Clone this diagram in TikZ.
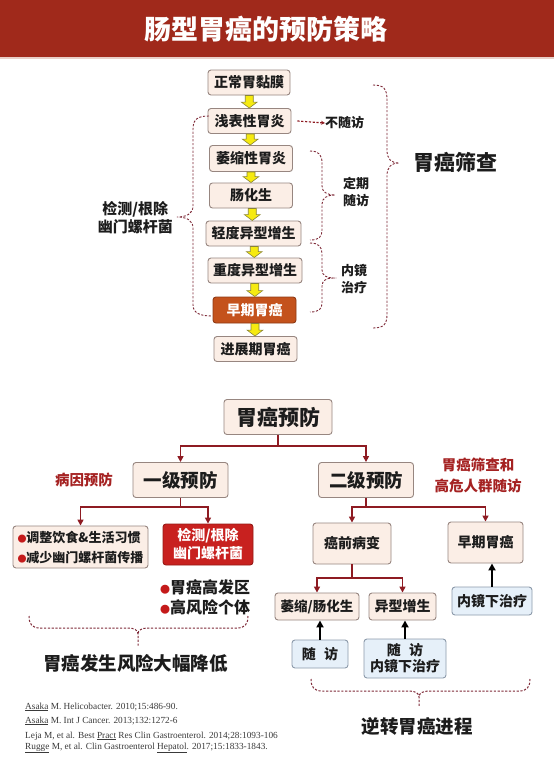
\documentclass[tikz,border=0pt]{standalone}
\usepackage{fontspec}
\setmainfont{Liberation Serif}
\newfontfamily\cjk{Noto Sans CJK SC}
\usetikzlibrary{calc,arrows.meta}
\definecolor{titlered}{HTML}{A0291B}
\definecolor{titleedge}{HTML}{E9CFC8}
\definecolor{boxfill}{HTML}{FBEEE6}
\definecolor{boxline}{HTML}{978680}
\definecolor{orangebox}{HTML}{C4521C}
\definecolor{orangeline}{HTML}{8E3A16}
\definecolor{redbox}{HTML}{C8211F}
\definecolor{redline}{HTML}{951A16}
\definecolor{bluefill}{HTML}{E6F0F9}
\definecolor{blueline}{HTML}{8C9AAA}
\definecolor{connred}{HTML}{8E1B22}
\definecolor{bracered}{HTML}{7E2A38}
\definecolor{labelred}{HTML}{A52222}
\definecolor{bulletred}{HTML}{C41A1A}
\definecolor{yel}{HTML}{F6EA10}
\definecolor{yelline}{HTML}{8A8438}
\definecolor{txt}{HTML}{1C1C1C}
\definecolor{reftxt}{HTML}{3A3A3A}
\newcommand\fsz[2]{\fontsize{#1}{#2}\selectfont}
\newcommand\yarr[2]{\draw[yarrowst] let \p1=(#1.south), \p2=(#2.north), \n1={0.5*(\x1+\x2)} in
  (\n1-4pt,\y1) -- (\n1+4pt,\y1) -- (\n1+4pt,\y2+6pt) -- (\n1+8pt,\y2+6pt) -- (\n1,\y2) -- (\n1-8pt,\y2+6pt) -- (\n1-4pt,\y2+6pt) -- cycle;}
\newcommand\bul[1]{{\color{bulletred}\fsz{#1}{#1}●}}
\begin{document}
\begin{tikzpicture}[x=1pt,y=-1pt,
 box/.style={draw=boxline, fill=boxfill, rounded corners=3pt, line width=0.9pt, inner sep=0pt, text=txt, font=\cjk\bfseries\fsz{14}{16}, align=center},
 darkbox/.style={box, draw=orangeline, fill=orangebox, text=white},
 redbx/.style={box, draw=redline, fill=redbox, text=white},
 bluebox/.style={box, draw=blueline, fill=bluefill},
 lbl/.style={inner sep=0pt, text=txt, font=\cjk\bfseries\fsz{13}{15}, align=center},
 redlbl/.style={inner sep=0pt, text=labelred, font=\cjk\bfseries\fsz{14.5}{21}, align=center},
 conn/.style={draw=connred, line width=1.6pt},
 connarr/.style={conn, -{Triangle[length=6pt,width=6pt]}},
 uparr/.style={draw=black, line width=1.8pt, -{Triangle[length=7pt,width=7pt]}},
 brace/.style={draw=bracered, dash pattern=on 2.2pt off 1.6pt, line width=0.9pt},
 yarrowst/.style={draw=yelline, fill=yel, line width=0.6pt, line join=miter},
 ref/.style={inner sep=0pt, anchor=west, text=reftxt, font=\fsz{9.3}{11}},
]
\useasboundingbox (0,0) rectangle (554,772);
\fill[white] (0,0) rectangle (554,772);
% title
\fill[titlered] (0,0) rectangle (554,57);
\draw[titleedge, line width=1.2pt] (0,58) -- (554,58);
\node[inner sep=0pt, text=white, font=\cjk\bfseries\fsz{27}{30}] (title) at (266,29) {肠型胃癌的预防策略};

% top chain
\node[box, minimum width=82, minimum height=25] (n1) at (249,82.5) {正常胃黏膜};
\node[box, minimum width=83, minimum height=25] (n2) at (249.5,121) {浅表性胃炎};
\node[box, minimum width=83, minimum height=26] (n3) at (251,158.5) {萎缩性胃炎};
\node[box, minimum width=83, minimum height=25] (n4) at (251,195.5) {肠化生};
\node[box, minimum width=95, minimum height=25] (n5) at (253.5,233.5) {轻度异型增生};
\node[box, minimum width=94, minimum height=25] (n6) at (255,270.5) {重度异型增生};
\node[darkbox, minimum width=83, minimum height=26] (n7) at (254.5,310) {早期胃癌};
\node[box, minimum width=83, minimum height=25] (n8) at (255.5,349) {进展期胃癌};
\yarr{n1}{n2}
\yarr{n2}{n3}
\yarr{n3}{n4}
\yarr{n4}{n5}
\yarr{n5}{n6}
\yarr{n6}{n7}
\yarr{n7}{n8}

% no follow-up
\node[lbl, anchor=west] (nofu) at (325,123) {不随访};
\draw[brace, line width=1.2pt, draw=connred, -{Stealth[length=4pt,width=4pt]}] ([xshift=6pt]n2.east) -- (nofu.west);

% left brace
\node[lbl, font=\cjk\bfseries\fsz{15}{18}, anchor=east] (hp) at (173,218) {检测/根除\\幽门螺杆菌};
\draw[brace] (209,116) .. controls (198,116) and (193,119) .. (193,129) -- (193,206)
  .. controls (193,214) and (186,217) .. (177,217)
  .. controls (186,217) and (193,220) .. (193,228) -- (193,305)
  .. controls (193,313) and (200,316) .. (212,316);

% right braces
\draw[brace] (373,85) .. controls (384,85) and (387,89) .. (387,100) -- (387,150)
  .. controls (387,159) and (391,163) .. (399,163)
  .. controls (391,163) and (387,167) .. (387,176) -- (387,314)
  .. controls (387,324) and (384,328) .. (373,328);
\node[lbl, font=\cjk\bfseries\fsz{21}{24}] (scr) at (455,162) {胃癌筛查};
\draw[brace] (310,151) .. controls (319,151) and (322,155) .. (322,163) -- (322,186)
  .. controls (322,192) and (327,195) .. (335,195)
  .. controls (327,195) and (322,198) .. (322,204) -- (322,230)
  .. controls (322,237) and (319,240) .. (310,240);
\node[lbl, font=\cjk\bfseries\fsz{13}{16.5}] (regfu) at (356,192) {定期\\随访};
\draw[brace] (310,243) .. controls (319,243) and (322,247) .. (322,254) -- (322,270)
  .. controls (322,275) and (326,278) .. (333,278)
  .. controls (326,278) and (322,281) .. (322,286) -- (322,303)
  .. controls (322,309) and (319,312) .. (310,312);
\node[lbl, font=\cjk\bfseries\fsz{13}{16.5}] (endo) at (354,279) {内镜\\治疗};

% ---------- bottom part
\node[box, font=\cjk\bfseries\fsz{21}{24}, minimum width=108, minimum height=35] (p0) at (278,417) {胃癌预防};
\node[box, font=\cjk\bfseries\fsz{18.5}{22}, minimum width=95, minimum height=35] (p1) at (180.5,480) {一级预防};
\node[box, font=\cjk\bfseries\fsz{18.5}{22}, minimum width=95, minimum height=35] (p2) at (366,480) {二级预防};
\coordinate (j0) at (278,446);
\draw[conn] (p0.south) -- (j0);
\draw[connarr] (j0) -| (p1.north);
\draw[connarr] (j0) -| (p2.north);
\node[redlbl] (etio) at (84,480) {病因预防};
\node[redlbl] (scr2) at (478,475.5) {胃癌筛查和\\高危人群随访};

% primary prevention
\node[box, font=\cjk\bfseries\fsz{13}{20}, align=left, minimum width=135, minimum height=42] (q1) at (80.5,547)
  {\bul{9}调整饮食\&生活习惯\\\bul{9}减少幽门螺杆菌传播};
\node[redbx, minimum width=90, minimum height=41, font=\cjk\bfseries\fsz{14}{18}] (q2) at (208,544.5) {检测/根除\\幽门螺杆菌};
\coordinate (j1) at (180.5,507);
\draw[conn] (p1.south) -- (j1);
\draw[connarr] (j1) -| (q1.north);
\draw[connarr] (j1) -| (q2.north);
\node[lbl, font=\cjk\bfseries\fsz{16}{19.5}, align=left, anchor=west] (risk) at (160,597.5) {\bul{10}胃癌高发区\\\bul{10}高风险个体};
\draw[brace, line width=1pt] (29,616) .. controls (29,624) and (32,628) .. (40,628) -- (128,628)
  .. controls (134,628) and (138,630) .. (138,634) -- (138,647);
\draw[brace, line width=1pt] (248,616) .. controls (248,624) and (245,628) .. (237,628) -- (148,628)
  .. controls (142,628) and (138,630) .. (138,634);
\node[lbl, font=\cjk\bfseries\fsz{18.5}{22}] (lower) at (135.5,663) {胃癌发生风险大幅降低};

% secondary prevention
\node[box, minimum width=78, minimum height=41] (c1) at (352,543.5) {癌前病变};
\node[box, minimum width=75, minimum height=41] (c2) at (485.5,542.5) {早期胃癌};
\coordinate (j2) at (366,507);
\draw[conn] (p2.south) -- (j2);
\draw[connarr] (j2) -| (c1.north);
\draw[connarr] (j2) -| (c2.north);
\node[box, font=\cjk\bfseries\fsz{13.5}{16}, minimum width=84, minimum height=27] (d1) at (317,606.5) {萎缩/肠化生};
\node[box, minimum width=67, minimum height=27] (d2) at (402.5,606.5) {异型增生};
\coordinate (j3) at (352,578);
\draw[conn] (c1.south) -- (j3);
\draw[connarr] (j3) -| (d1.north);
\draw[connarr] (j3) -| (d2.north);
\node[bluebox, minimum width=56, minimum height=28] (b1) at (320,654) {随\hspace{0.6em}访};
\node[bluebox, minimum width=82, minimum height=39] (b2) at (405,658.5) {随\hspace{0.6em}访\\内镜下治疗};
\node[bluebox, minimum width=80, minimum height=28] (b3) at (492,601) {内镜下治疗};
\draw[uparr] (b1.north) -- (b1.north |- d1.south);
\draw[uparr] (b2.north) -- (b2.north |- d2.south);
\draw[uparr] (b3.north) -- (b3.north |- c2.south);
\draw[brace, line width=1pt] (311,679) .. controls (311,687) and (314,691) .. (322,691) -- (409,691)
  .. controls (415,691) and (419,693) .. (419,697) -- (419,707);
\draw[brace, line width=1pt] (530,679) .. controls (530,687) and (527,691) .. (519,691) -- (429,691)
  .. controls (423,691) and (419,693) .. (419,697);
\node[lbl, font=\cjk\bfseries\fsz{18.5}{22}] (rev) at (417,726) {逆转胃癌进程};

% references
\node[ref] (r1) at (25,707) {\underline{Asaka} M. Helicobacter. 2010;15:486-90.};
\node[ref] (r2) at (25,721) {\underline{Asaka} M. Int J Cancer. 2013;132:1272-6};
\node[ref] (r3) at (25,736) {Leja M, et al. Best \underline{Pract} Res Clin Gastroenterol. 2014;28:1093-106};
\node[ref] (r4) at (25,748) {\underline{Rugge} M, et al. Clin Gastroenterol \underline{Hepatol}. 2017;15:1833-1843.};
\end{tikzpicture}
\end{document}
